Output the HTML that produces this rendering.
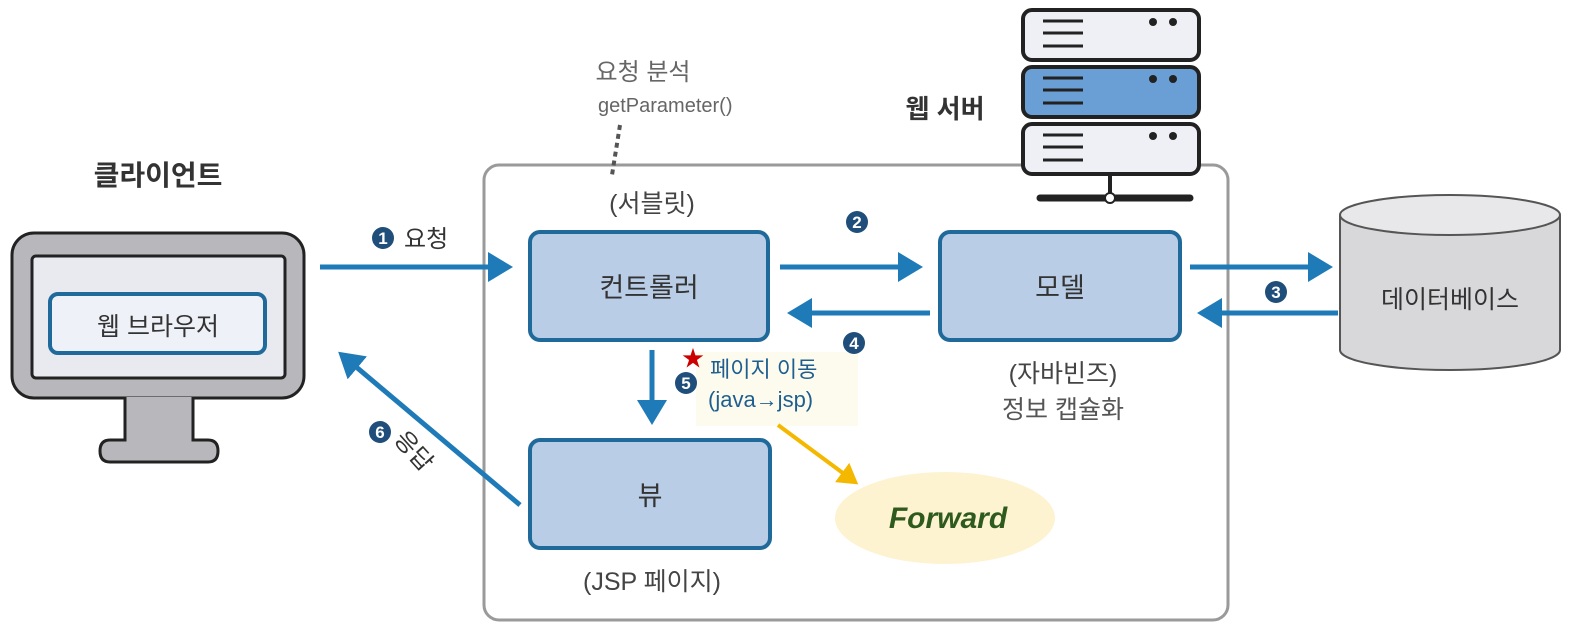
<!DOCTYPE html>
<html><head><meta charset="utf-8"><style>
html,body{margin:0;padding:0;background:#fff;}
svg{display:block;font-family:"Liberation Sans","Noto Sans CJK KR",sans-serif;}
</style></head><body>
<svg width="1590" height="642" viewBox="0 0 1590 642">
<defs>
<marker id="ab" markerWidth="6" markerHeight="6" refX="4" refY="3" orient="auto" markerUnits="strokeWidth"><path d="M0,0 L5,3 L0,6 z" fill="#1f7ab8"/></marker>
<marker id="ay" markerWidth="6" markerHeight="6" refX="4" refY="3" orient="auto" markerUnits="strokeWidth"><path d="M0,0 L5,3 L0,6 z" fill="#f5b800"/></marker>
</defs>
<rect x="484" y="165" width="744" height="455" rx="15" fill="#fff" stroke="#9a9a9a" stroke-width="3"/>
<g stroke="#222" stroke-width="4">
<rect x="1023" y="10" width="176" height="50" rx="9" fill="#eef0f5"/>
<rect x="1023" y="67" width="176" height="50" rx="9" fill="#6a9fd6"/>
<rect x="1023" y="124" width="176" height="50" rx="9" fill="#eef0f5"/>
<line x1="1110" y1="174" x2="1110" y2="195"/>
<line x1="1040" y1="198" x2="1190" y2="198" stroke-width="7" stroke-linecap="round"/>
</g>
<circle cx="1110" cy="198" r="5" fill="#fff" stroke="#222" stroke-width="2"/>
<g stroke="#222" stroke-width="3">
<line x1="1043" y1="21" x2="1083" y2="21"/><line x1="1043" y1="33" x2="1083" y2="33"/><line x1="1043" y1="46" x2="1083" y2="46"/>
<line x1="1043" y1="78" x2="1083" y2="78"/><line x1="1043" y1="90" x2="1083" y2="90"/><line x1="1043" y1="103" x2="1083" y2="103"/>
<line x1="1043" y1="135" x2="1083" y2="135"/><line x1="1043" y1="147" x2="1083" y2="147"/><line x1="1043" y1="160" x2="1083" y2="160"/>
</g>
<g fill="#222"><circle cx="1153" cy="22" r="4"/><circle cx="1173" cy="22" r="4"/><circle cx="1153" cy="79" r="4"/><circle cx="1173" cy="79" r="4"/><circle cx="1153" cy="136" r="4"/><circle cx="1173" cy="136" r="4"/></g>
<text x="945" y="118" font-size="26" font-weight="bold" fill="#333" text-anchor="middle">웹 서버</text>
<text x="643" y="80" font-size="24" fill="#666" text-anchor="middle">요청 분석</text>
<text x="598" y="112" font-size="20" fill="#666">getParameter()</text>
<line x1="620" y1="125" x2="612" y2="175" stroke="#555" stroke-width="4" stroke-dasharray="5,4"/>
<text x="652" y="212" font-size="25" fill="#444" text-anchor="middle">(서블릿)</text>
<text x="158" y="185" font-size="28" font-weight="bold" fill="#333" text-anchor="middle">클라이언트</text>
<rect x="12" y="233" width="292" height="165" rx="22" fill="#b8b8bc" stroke="#222" stroke-width="3"/>
<rect x="32" y="256" width="253" height="122" rx="4" fill="#e8eaf0" stroke="#222" stroke-width="3"/>
<path d="M125,397 L125,440 L110,440 Q100,440 100,451 Q100,462 110,462 L208,462 Q218,462 218,451 Q218,440 208,440 L193,440 L193,397" fill="#b8b8bc" stroke="#222" stroke-width="3"/>
<rect x="50" y="294" width="215" height="59" rx="8" fill="#eef2f8" stroke="#1f6a9a" stroke-width="4"/>
<text x="158" y="335" font-size="25" fill="#333" text-anchor="middle">웹 브라우저</text>
<rect x="530" y="232" width="238" height="108" rx="10" fill="#b9cde6" stroke="#1f6a9a" stroke-width="4"/>
<text x="649" y="297" font-size="27" fill="#333" text-anchor="middle">컨트롤러</text>
<rect x="940" y="232" width="240" height="108" rx="10" fill="#b9cde6" stroke="#1f6a9a" stroke-width="4"/>
<text x="1060" y="297" font-size="27" fill="#333" text-anchor="middle">모델</text>
<rect x="530" y="440" width="240" height="108" rx="10" fill="#b9cde6" stroke="#1f6a9a" stroke-width="4"/>
<text x="650" y="505" font-size="27" fill="#333" text-anchor="middle">뷰</text>
<text x="652" y="590" font-size="25" fill="#444" text-anchor="middle">(JSP 페이지)</text>
<text x="1063" y="382" font-size="25" fill="#444" text-anchor="middle">(자바빈즈)</text>
<text x="1063" y="418" font-size="25" fill="#555" text-anchor="middle">정보 캡슐화</text>
<path d="M1340,215 L1340,350 A110,20 0 0 0 1560,350 L1560,215" fill="#d8d8da" stroke="#555" stroke-width="2"/>
<ellipse cx="1450" cy="215" rx="110" ry="20" fill="#e8e8ea" stroke="#555" stroke-width="2"/>
<text x="1450" y="308" font-size="25" fill="#333" text-anchor="middle">데이터베이스</text>
<rect x="696" y="352" width="162" height="74" fill="#fdfbee"/>
<g stroke="#1f7ab8" stroke-width="5" fill="none">
<line x1="320" y1="267" x2="508" y2="267" marker-end="url(#ab)"/>
<line x1="780" y1="267" x2="918" y2="267" marker-end="url(#ab)"/>
<line x1="930" y1="313" x2="792" y2="313" marker-end="url(#ab)"/>
<line x1="1190" y1="267" x2="1328" y2="267" marker-end="url(#ab)"/>
<line x1="1338" y1="313" x2="1202" y2="313" marker-end="url(#ab)"/>
<line x1="652" y1="350" x2="652" y2="420" marker-end="url(#ab)"/>
<line x1="520" y1="505" x2="342" y2="355" marker-end="url(#ab)"/>
</g>
<g font-size="17" font-weight="bold" fill="#fff" text-anchor="middle">
<circle cx="383" cy="238" r="11" fill="#1f4e7a"/><text x="383" y="244">1</text>
<circle cx="857" cy="222" r="11" fill="#1f4e7a"/><text x="857" y="228">2</text>
<circle cx="1276" cy="292" r="11" fill="#1f4e7a"/><text x="1276" y="298">3</text>
<circle cx="854" cy="343" r="11" fill="#1f4e7a"/><text x="854" y="349">4</text>
<circle cx="380" cy="432" r="11" fill="#1f4e7a"/><text x="380" y="438">6</text>
<circle cx="686" cy="383" r="11" fill="#1f4e7a"/><text x="686" y="389">5</text>
</g>
<text x="404" y="247" font-size="24" fill="#333">요청</text>
<text x="0" y="0" font-size="24" fill="#333" transform="translate(393,440) rotate(48)">응답</text>
<text x="693" y="366" font-size="22" fill="#c00" text-anchor="middle">★</text>
<text x="710" y="377" font-size="22" fill="#1f5f8f">페이지 이동</text>
<text x="708" y="407" font-size="22" fill="#1f5f8f">(java→jsp)</text>
<line x1="778" y1="425" x2="855" y2="482" stroke="#f5b800" stroke-width="4" marker-end="url(#ay)"/>
<ellipse cx="945" cy="518" rx="110" ry="46" fill="#fdf3d0"/>
<text x="948" y="528" font-size="30" font-weight="bold" font-style="italic" fill="#2e5a1e" text-anchor="middle">Forward</text>
</svg>
</body></html>
